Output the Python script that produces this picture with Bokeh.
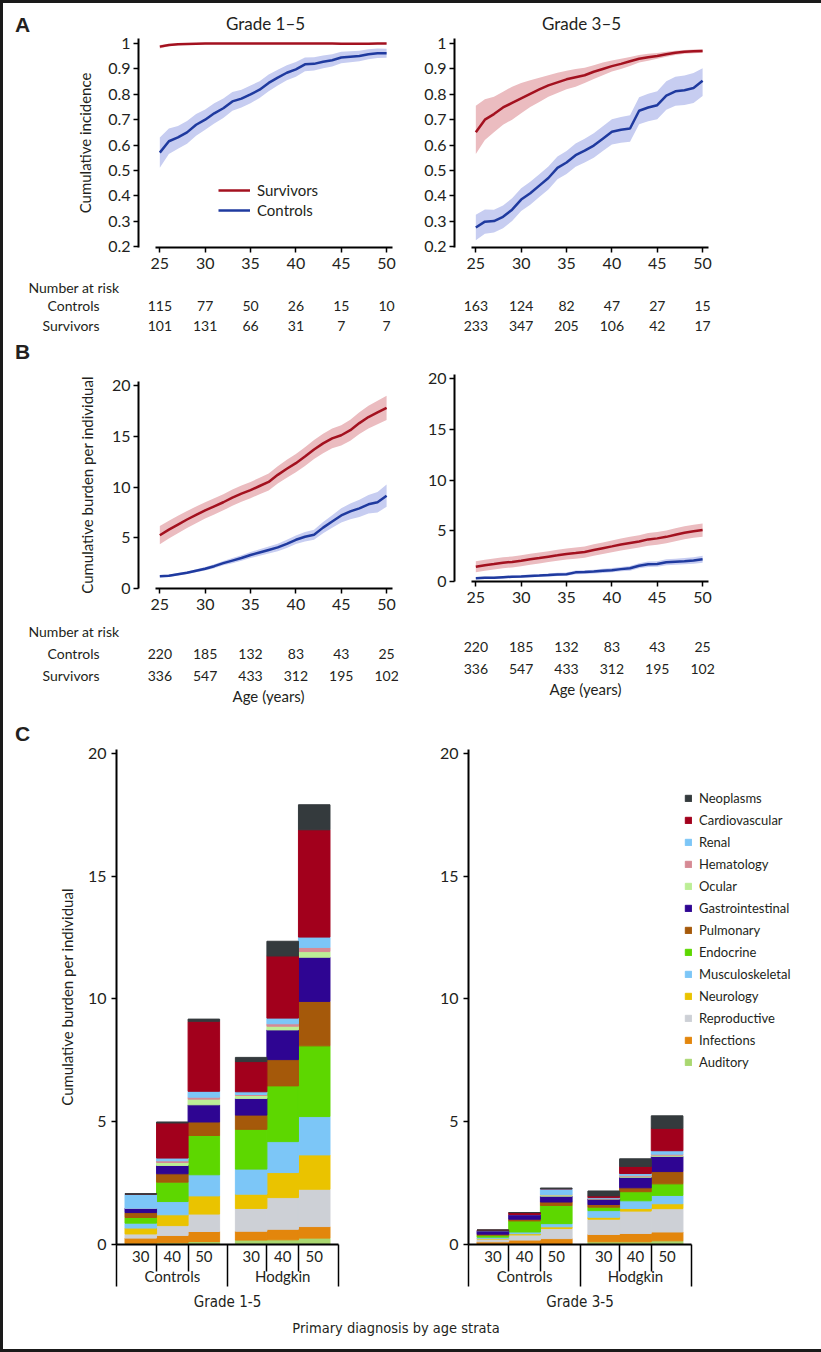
from bokeh.plotting import figure
from bokeh.models import (ColumnDataSource, Range1d, FactorRange, FixedTicker, LinearAxis,
                          Legend, LegendItem, Div, NumeralTickFormatter, CustomJSTickFormatter)
from bokeh.layouts import row, column
from bokeh.embed import file_html
from bokeh.resources import INLINE
from bokeh.core.properties import value

# ---------------- data ----------------
ages = [25, 26, 27, 28, 29, 30, 31, 32, 33, 34, 35, 36, 37, 38, 39, 40, 41, 42, 43, 44, 45, 46, 47, 48, 49, 50]
age_ticks = [25, 30, 35, 40, 45, 50]

# Panel A, grade 1-5 cumulative incidence
surv_inc_g15 = [0.988, 0.994, 0.997, 0.998, 0.999, 1.000, 1.000, 1.000, 1.000, 1.000, 1.000, 1.000, 1.000,
                1.000, 1.000, 1.000, 1.000, 1.000, 1.000, 1.000, 0.999, 0.999, 0.999, 0.999, 1.000, 1.000]
surv_inc_g15_lo = [0.981, 0.989, 0.993, 0.995, 0.996, 0.997, 0.998, 0.998, 0.998, 0.998, 0.998, 0.998, 0.998,
                   0.998, 0.998, 0.998, 0.998, 0.998, 0.998, 0.998, 0.997, 0.997, 0.997, 0.997, 0.998, 0.998]
surv_inc_g15_hi = [0.994, 0.998, 0.999, 1.000, 1.000, 1.000, 1.000, 1.000, 1.000, 1.000, 1.000, 1.000, 1.000,
                   1.000, 1.000, 1.000, 1.000, 1.000, 1.000, 1.000, 1.000, 1.000, 1.000, 1.000, 1.000, 1.000]
ctrl_inc_g15 = [0.570, 0.615, 0.630, 0.650, 0.680, 0.700, 0.725, 0.745, 0.772, 0.783, 0.800, 0.818, 0.845,
                0.866, 0.885, 0.898, 0.918, 0.920, 0.928, 0.934, 0.945, 0.948, 0.951, 0.958, 0.962, 0.962]
ctrl_inc_g15_lo = [0.510, 0.565, 0.585, 0.605, 0.637, 0.660, 0.685, 0.707, 0.735, 0.748, 0.765, 0.785, 0.812,
                   0.835, 0.855, 0.869, 0.891, 0.894, 0.903, 0.910, 0.922, 0.926, 0.930, 0.938, 0.943, 0.944]
ctrl_inc_g15_hi = [0.630, 0.665, 0.675, 0.695, 0.722, 0.740, 0.765, 0.783, 0.809, 0.818, 0.835, 0.851, 0.878,
                   0.897, 0.915, 0.927, 0.945, 0.946, 0.953, 0.958, 0.968, 0.970, 0.972, 0.978, 0.981, 0.980]

# Panel A, grade 3-5 cumulative incidence
surv_inc_g35 = [0.650, 0.700, 0.722, 0.748, 0.766, 0.784, 0.802, 0.819, 0.835, 0.847, 0.859, 0.867, 0.875,
                0.889, 0.900, 0.911, 0.920, 0.930, 0.940, 0.946, 0.951, 0.958, 0.964, 0.968, 0.970, 0.971]
surv_inc_g35_lo = [0.565, 0.620, 0.650, 0.680, 0.700, 0.725, 0.750, 0.770, 0.790, 0.805, 0.820, 0.830, 0.845,
                   0.860, 0.875, 0.890, 0.900, 0.912, 0.925, 0.932, 0.940, 0.948, 0.955, 0.960, 0.962, 0.964]
surv_inc_g35_hi = [0.755, 0.780, 0.790, 0.810, 0.830, 0.845, 0.855, 0.865, 0.875, 0.885, 0.893, 0.900, 0.905,
                   0.915, 0.925, 0.933, 0.940, 0.947, 0.955, 0.960, 0.963, 0.968, 0.972, 0.975, 0.977, 0.978]
ctrl_inc_g35 = [0.275, 0.298, 0.300, 0.317, 0.345, 0.385, 0.410, 0.440, 0.470, 0.510, 0.531, 0.560, 0.578,
                0.598, 0.625, 0.652, 0.660, 0.665, 0.735, 0.748, 0.757, 0.795, 0.812, 0.816, 0.825, 0.853]
ctrl_inc_g35_lo = [0.225, 0.250, 0.255, 0.272, 0.300, 0.340, 0.365, 0.395, 0.425, 0.465, 0.486, 0.514, 0.531,
                   0.550, 0.576, 0.602, 0.609, 0.613, 0.682, 0.694, 0.702, 0.739, 0.755, 0.758, 0.766, 0.793]
ctrl_inc_g35_hi = [0.325, 0.346, 0.345, 0.362, 0.390, 0.430, 0.455, 0.485, 0.515, 0.555, 0.576, 0.606, 0.625,
                   0.646, 0.674, 0.702, 0.711, 0.717, 0.788, 0.802, 0.812, 0.851, 0.869, 0.874, 0.884, 0.903]

# Panel B, grade 1-5 cumulative burden
surv_bur_g15 = [5.25, 5.80, 6.30, 6.80, 7.25, 7.70, 8.10, 8.50, 8.95, 9.35, 9.70, 10.10, 10.50,
                11.20, 11.80, 12.35, 13.00, 13.70, 14.30, 14.80, 15.10, 15.60, 16.30, 16.90, 17.35, 17.80]
surv_bur_g15_lo = [4.35, 4.92, 5.44, 5.96, 6.43, 6.90, 7.30, 7.70, 8.15, 8.55, 8.90, 9.28, 9.66,
                   10.34, 10.92, 11.45, 12.08, 12.76, 13.34, 13.82, 14.10, 14.56, 15.22, 15.78, 16.19, 16.60]
surv_bur_g15_hi = [6.15, 6.68, 7.16, 7.64, 8.07, 8.50, 8.90, 9.30, 9.75, 10.15, 10.50, 10.92, 11.34,
                   12.06, 12.68, 13.25, 13.92, 14.64, 15.26, 15.78, 16.10, 16.64, 17.38, 18.02, 18.51, 19.00]
ctrl_bur_g15 = [1.20, 1.25, 1.40, 1.55, 1.75, 1.95, 2.20, 2.50, 2.75, 3.00, 3.30, 3.55, 3.80,
                4.05, 4.40, 4.80, 5.10, 5.30, 6.00, 6.60, 7.20, 7.60, 7.90, 8.30, 8.50, 9.15]
ctrl_bur_g15_lo = [1.10, 1.14, 1.28, 1.42, 1.60, 1.77, 2.00, 2.28, 2.50, 2.73, 3.00, 3.22, 3.45,
                   3.68, 3.99, 4.38, 4.64, 4.80, 5.45, 5.98, 6.50, 6.82, 7.05, 7.38, 7.50, 8.05]
ctrl_bur_g15_hi = [1.30, 1.36, 1.52, 1.68, 1.90, 2.13, 2.40, 2.72, 3.00, 3.27, 3.60, 3.88, 4.15,
                   4.42, 4.81, 5.22, 5.56, 5.80, 6.55, 7.22, 7.90, 8.38, 8.75, 9.22, 9.50, 10.25]

# Panel B, grade 3-5 cumulative burden
surv_bur_g35 = [1.45, 1.60, 1.72, 1.85, 1.93, 2.05, 2.20, 2.32, 2.45, 2.58, 2.72, 2.80, 2.90,
                3.10, 3.28, 3.46, 3.65, 3.80, 3.95, 4.15, 4.25, 4.40, 4.60, 4.80, 4.95, 5.07]
surv_bur_g35_lo = [0.90, 1.06, 1.18, 1.31, 1.39, 1.51, 1.66, 1.78, 1.91, 2.04, 2.18, 2.25, 2.35,
                   2.54, 2.71, 2.88, 3.06, 3.20, 3.34, 3.53, 3.62, 3.77, 3.96, 4.16, 4.31, 4.42]
surv_bur_g35_hi = [2.00, 2.14, 2.26, 2.39, 2.47, 2.59, 2.74, 2.86, 2.99, 3.12, 3.26, 3.35, 3.45,
                   3.66, 3.85, 4.04, 4.24, 4.40, 4.56, 4.77, 4.88, 5.03, 5.24, 5.44, 5.59, 5.72]
ctrl_bur_g35 = [0.33, 0.38, 0.36, 0.42, 0.47, 0.50, 0.55, 0.58, 0.63, 0.70, 0.72, 0.90, 0.93,
                0.98, 1.05, 1.12, 1.22, 1.30, 1.55, 1.70, 1.72, 1.90, 1.95, 2.00, 2.08, 2.20]
ctrl_bur_g35_lo = [0.23, 0.27, 0.25, 0.30, 0.35, 0.37, 0.41, 0.44, 0.48, 0.54, 0.56, 0.72, 0.75,
                   0.79, 0.85, 0.91, 1.00, 1.07, 1.30, 1.44, 1.45, 1.61, 1.65, 1.69, 1.76, 1.86]
ctrl_bur_g35_hi = [0.43, 0.49, 0.47, 0.54, 0.59, 0.63, 0.69, 0.72, 0.78, 0.86, 0.88, 1.08, 1.11,
                   1.17, 1.25, 1.33, 1.44, 1.53, 1.80, 1.96, 1.99, 2.19, 2.25, 2.31, 2.40, 2.54]

# Numbers at risk
risk_rows = ["Survivors", "Controls"]
risk_a_g15_ctrl = [115, 77, 50, 26, 15, 10]
risk_a_g15_surv = [101, 131, 66, 31, 7, 7]
risk_a_g35_ctrl = [163, 124, 82, 47, 27, 15]
risk_a_g35_surv = [233, 347, 205, 106, 42, 17]
risk_b_ctrl = [220, 185, 132, 83, 43, 25]
risk_b_surv = [336, 547, 433, 312, 195, 102]

# Panel C, stacked burden per organ system (Controls 30/40/50, Hodgkin 30/40/50)
groups = ["Controls", "Hodgkin"]
strata = ["30", "40", "50"]
organs = ["Auditory", "Infections", "Reproductive", "Neurology", "Musculoskeletal", "Endocrine",
          "Pulmonary", "Gastrointestinal", "Ocular", "Hematology", "Renal", "Cardiovascular", "Neoplasms"]
organ_colors = ["#a9d770", "#e3860c", "#cdd0d6", "#eac300", "#7cc6f7", "#5dd700",
                "#a5590a", "#2e0592", "#bcee96", "#d68a94", "#7cc6f7", "#a2001c", "#343a3d"]

auditory_g15 = [0.05, 0.07, 0.12, 0.18, 0.19, 0.26]
infections_g15 = [0.21, 0.30, 0.41, 0.36, 0.43, 0.47]
reproductive_g15 = [0.17, 0.40, 0.71, 0.93, 1.29, 1.52]
neurology_g15 = [0.24, 0.44, 0.74, 0.58, 1.02, 1.40]
musculoskeletal_g15 = [0.20, 0.54, 0.86, 1.02, 1.26, 1.56]
endocrine_g15 = [0.23, 0.79, 1.60, 1.62, 2.27, 2.88]
pulmonary_g15 = [0.20, 0.34, 0.55, 0.58, 1.07, 1.81]
gastrointestinal_g15 = [0.18, 0.34, 0.70, 0.68, 1.21, 1.80]
ocular_g15 = [0.00, 0.12, 0.23, 0.12, 0.15, 0.23]
hematology_g15 = [0.00, 0.07, 0.08, 0.04, 0.10, 0.17]
renal_g15 = [0.57, 0.11, 0.24, 0.11, 0.23, 0.42]
cardiovascular_g15 = [0.00, 1.43, 2.85, 1.23, 2.53, 4.37]
neoplasms_g15 = [0.02, 0.04, 0.09, 0.17, 0.60, 1.02]

auditory_g35 = [0.02, 0.04, 0.04, 0.11, 0.11, 0.15]
infections_g35 = [0.09, 0.14, 0.20, 0.30, 0.34, 0.36]
reproductive_g35 = [0.11, 0.21, 0.41, 0.62, 0.91, 0.95]
neurology_g35 = [0.03, 0.05, 0.07, 0.08, 0.11, 0.20]
musculoskeletal_g35 = [0.05, 0.07, 0.13, 0.27, 0.31, 0.34]
endocrine_g35 = [0.08, 0.45, 0.74, 0.14, 0.37, 0.47]
pulmonary_g35 = [0.04, 0.07, 0.14, 0.11, 0.16, 0.50]
gastrointestinal_g35 = [0.14, 0.19, 0.24, 0.23, 0.43, 0.62]
ocular_g35 = [0.01, 0.00, 0.05, 0.00, 0.04, 0.05]
hematology_g35 = [0.00, 0.00, 0.02, 0.02, 0.04, 0.04]
renal_g35 = [0.00, 0.00, 0.23, 0.03, 0.07, 0.14]
cardiovascular_g35 = [0.02, 0.08, 0.00, 0.07, 0.29, 0.91]
neoplasms_g35 = [0.00, 0.00, 0.03, 0.20, 0.31, 0.51]

burden_g15 = [auditory_g15, infections_g15, reproductive_g15, neurology_g15, musculoskeletal_g15,
              endocrine_g15, pulmonary_g15, gastrointestinal_g15, ocular_g15, hematology_g15,
              renal_g15, cardiovascular_g15, neoplasms_g15]
burden_g35 = [auditory_g35, infections_g35, reproductive_g35, neurology_g35, musculoskeletal_g35,
              endocrine_g35, pulmonary_g35, gastrointestinal_g35, ocular_g35, hematology_g35,
              renal_g35, cardiovascular_g35, neoplasms_g35]

# ---------------- style ----------------
FONT = "Lato"
COND = "DejaVu Sans Condensed, Roboto"
INK = "#231f20"
RED = "#a3111f"
RED_BAND = "#ebbcc0"
BLUE = "#1f3a9f"
BLUE_BAND = "#c7cdf1"
X0, X1 = 22.65, 50.65
FW = 254
PPY = FW / (X1 - X0)   # pixels per year, shared by curves and risk tables


def base_fig(**kw):
    p = figure(output_backend="svg", toolbar_location=None, **kw)
    p.outline_line_color = None
    p.grid.visible = False
    p.background_fill_color = "white"
    p.border_fill_color = "white"
    if p.title is not None:
        p.title.text_font = FONT
        p.title.text_font_style = "normal"
        p.title.text_color = INK
    return p


def style_axis(ax):
    ax.axis_line_width = 2
    ax.axis_line_color = "black"
    ax.major_tick_line_width = 1.5
    ax.major_tick_line_color = "black"
    ax.major_tick_out = 5
    ax.major_tick_in = 0
    ax.minor_tick_line_color = None
    ax.major_label_text_font = FONT
    ax.major_label_text_font_size = "16px"
    ax.major_label_text_color = INK
    ax.axis_label_text_font = FONT
    ax.axis_label_text_font_style = "normal"
    ax.axis_label_text_font_size = "15px"
    ax.axis_label_text_color = INK


def curve_fig(title, yr, yticks, ylabel, fh, top, bottom, left, right, surv, ctrl, fmt=None, lab_standoff=13):
    p = base_fig(title=title, frame_width=FW, frame_height=fh,
                 x_range=Range1d(X0, X1), y_range=Range1d(*yr),
                 min_border_top=top, min_border_bottom=bottom,
                 min_border_left=left, min_border_right=right)
    p.varea(x=ages, y1=surv[1], y2=surv[2], fill_color=RED_BAND)
    p.varea(x=ages, y1=ctrl[1], y2=ctrl[2], fill_color=BLUE_BAND)
    rs = p.line(x=ages, y=surv[0], line_color=RED, line_width=2.5)
    rc = p.line(x=ages, y=ctrl[0], line_color=BLUE, line_width=2.5)
    for ax in p.axis:
        style_axis(ax)
    p.xaxis.ticker = FixedTicker(ticks=age_ticks)
    p.xaxis.bounds = (24.55, X1)
    p.xaxis.major_label_standoff = 5
    p.yaxis.ticker = FixedTicker(ticks=yticks)
    p.yaxis.major_label_standoff = 3
    if fmt:
        p.yaxis.formatter = NumeralTickFormatter(format=fmt)
    if ylabel:
        p.yaxis.axis_label = ylabel
        p.yaxis.axis_label_standoff = lab_standoff
    p.title.align = "center"
    p.title.text_font_size = "17px"
    return p, rs, rc


def risk_fig(ctrl_n, surv_n, labels, row_h, top, bottom, left, right, fw, xlabel, t_standoff=0):
    p = base_fig(title="Number at risk" if labels else "", frame_width=fw, frame_height=2 * row_h,
                 x_range=Range1d(X0, X0 + fw / PPY), y_range=FactorRange(factors=risk_rows),
                 min_border_top=top, min_border_bottom=bottom,
                 min_border_left=left, min_border_right=right,
                 x_axis_location="below" if xlabel else None,
                 y_axis_location="left" if labels else None)
    src = ColumnDataSource(dict(x=age_ticks + age_ticks,
                                y=["Controls"] * len(ctrl_n) + ["Survivors"] * len(surv_n),
                                t=[str(v) for v in ctrl_n + surv_n]))
    p.text(x="x", y="y", text="t", source=src, text_align="center", text_baseline="middle",
           text_font=value(FONT), text_font_size="14px", text_color=INK)
    for ax in p.axis:
        style_axis(ax)
        ax.axis_line_color = None
        ax.major_tick_line_color = None
        ax.major_tick_out = 0
    if labels:
        p.yaxis.major_label_standoff = 39
        p.yaxis.major_label_text_font_size = "14px"
        p.title.align = "left"
        p.title.offset = -110
        p.title.text_font_size = "14px"
        p.title.standoff = t_standoff
    if xlabel:
        p.xaxis.ticker = FixedTicker(ticks=[])
        p.xaxis.axis_label = "Age (years)"
        p.xaxis.axis_label_standoff = 0
    return p


GP = 0.5
PAD = 0.27
n_s = len(strata)
span = len(groups) * n_s + (len(groups) - 1) * GP
bar_x = [gi * (n_s + GP) + si + 0.5 for gi in range(len(groups)) for si in range(n_s)]
bar_lab = [s for g in groups for s in strata]
grp_x = [gi * (n_s + GP) + n_s / 2 for gi in range(len(groups))]


def bar_fig(burden, grade, ylabel, left, right, fwidth, legend):
    p = base_fig(frame_width=fwidth, frame_height=495, x_range=Range1d(-PAD, span + PAD),
                 y_range=Range1d(0, 20.16), x_axis_location=None,
                 min_border_top=42, min_border_bottom=70, min_border_left=left, min_border_right=right)
    data = {"x": bar_x}
    for name, vals in zip(organs, burden):
        data[name] = vals
    src = ColumnDataSource(data)
    rends = p.vbar_stack(organs, x="x", width=1.0, color=organ_colors, source=src)
    yax = p.yaxis[0]
    style_axis(yax)
    yax.ticker = FixedTicker(ticks=[0, 5, 10, 15, 20])
    yax.major_label_standoff = 5
    if ylabel:
        yax.axis_label = ylabel
        yax.axis_label_standoff = 9
    # separators between strata and between groups (zero-size axes, ticks drawn downwards)
    short, long_ = [], [-PAD + 0.01]
    for gi in range(len(groups)):
        base = gi * (n_s + GP)
        short += [base + k for k in range(1, n_s)]
        if gi < len(groups) - 1:
            long_.append(base + n_s + GP / 2)
    long_.append(span + PAD - 0.01)
    for ticks, length in ((short, 27), (long_, 42)):
        ax = LinearAxis(ticker=FixedTicker(ticks=ticks), formatter=CustomJSTickFormatter(code="return ''"),
                        major_tick_out=0, major_tick_in=-length, major_label_standoff=0,
                        major_tick_line_color="black", major_tick_line_width=1.5,
                        minor_tick_line_color=None, axis_line_color=None,
                        major_label_text_font_size="1px")
        p.add_layout(ax, "below")
    sax = LinearAxis(ticker=FixedTicker(ticks=bar_x),
                     major_label_overrides={x: s for x, s in zip(bar_x, bar_lab)})
    style_axis(sax)
    sax.major_tick_line_color = None
    sax.major_tick_out = 0
    sax.major_label_standoff = 6
    sax.major_label_text_font_size = "15px"
    p.add_layout(sax, "below")
    gax = LinearAxis(ticker=FixedTicker(ticks=grp_x),
                     major_label_overrides={x: g for x, g in zip(grp_x, groups)})
    style_axis(gax)
    gax.axis_line_color = None
    gax.major_tick_line_color = None
    gax.major_tick_out = 0
    gax.major_label_standoff = 2
    gax.major_label_text_font_size = "15px"
    gax.axis_label = grade
    gax.axis_label_text_font = COND
    gax.axis_label_text_font_size = "15px"
    gax.axis_label_standoff = 5
    p.add_layout(gax, "below")
    if legend:
        items = [LegendItem(label=name, renderers=[r]) for name, r in zip(organs[::-1], rends[::-1])]
        leg = Legend(items=items, location=(-7, 172), glyph_width=8, glyph_height=8, label_standoff=7,
                     label_height=20, spacing=2, padding=0, margin=0, border_line_color=None,
                     background_fill_alpha=0, label_text_font=FONT, label_text_font_size="13px",
                     label_text_color=INK)
        p.add_layout(leg, "right")
    return p


def letter_div(letter, h, dy):
    return Div(text=f'<div style="position:relative;left:12px;top:{dy}px;font-family:Liberation Sans,Arial,sans-serif;'
                    f'font-weight:bold;font-size:21px;line-height:21px;color:{INK}">{letter}</div>',
               width=45, height=h, margin=0)


# ---------------- panels ----------------
Y_INC = [0.2, 0.3, 0.4, 0.5, 0.6, 0.7, 0.8, 0.9, 1.0]
a_l, a_l_s, a_l_c = curve_fig("Grade 1–5", (0.196, 1.02), Y_INC, "Cumulative incidence", 209, 35, 29, 90, 8,
                              (surv_inc_g15, surv_inc_g15_lo, surv_inc_g15_hi),
                              (ctrl_inc_g15, ctrl_inc_g15_lo, ctrl_inc_g15_hi), fmt="0.[0]", lab_standoff=11)
leg_a = Legend(items=[LegendItem(label="Survivors", renderers=[a_l_s]),
                      LegendItem(label="Controls", renderers=[a_l_c])],
               location=(80, 27), glyph_width=32, glyph_height=20, label_standoff=7, label_height=20,
               spacing=0, padding=0, margin=0, border_line_color=None, background_fill_alpha=0,
               label_text_font=FONT, label_text_font_size="15px", label_text_color=INK)
a_l.add_layout(leg_a)
a_r, _, _ = curve_fig("Grade 3–5", (0.196, 1.02), Y_INC, None, 209, 35, 29, 54, 109,
                      (surv_inc_g35, surv_inc_g35_lo, surv_inc_g35_hi),
                      (ctrl_inc_g35, ctrl_inc_g35_lo, ctrl_inc_g35_hi), fmt="0.[0]")

ta_l = risk_fig(risk_a_g15_ctrl, risk_a_g15_surv, True, 20, 19, 0, 135, 2, 260, False, 0)
ta_r = risk_fig(risk_a_g35_ctrl, risk_a_g35_surv, False, 20, 19, 0, 54, 101, 262, False)

b_l, _, _ = curve_fig("", (0, 20.4), [0, 5, 10, 15, 20], "Cumulative burden per individual",
                      207, 46, 29, 90, 8,
                      (surv_bur_g15, surv_bur_g15_lo, surv_bur_g15_hi),
                      (ctrl_bur_g15, ctrl_bur_g15_lo, ctrl_bur_g15_hi), lab_standoff=13)
b_r, _, _ = curve_fig("", (0, 20.4), [0, 5, 10, 15, 20], None, 207, 39, 36, 54, 109,
                      (surv_bur_g35, surv_bur_g35_lo, surv_bur_g35_hi),
                      (ctrl_bur_g35, ctrl_bur_g35_lo, ctrl_bur_g35_hi))

tb_l = risk_fig(risk_b_ctrl, risk_b_surv, True, 22, 25, 20, 135, 2, 260, True, 6)
tb_r = risk_fig(risk_b_ctrl, risk_b_surv, False, 22, 18, 27, 54, 101, 262, True)

c_l = bar_fig(burden_g15, "Grade 1-5", "Cumulative burden per individual", 68, 62, 222, False)
c_r = bar_fig(burden_g35, "Grade 3-5", None, 68, 126, 223, True)

bottom = Div(text=f'<div style="position:relative;left:-14px;top:6px;width:814px;text-align:center;'
                  f'font-family:DejaVu Sans Condensed,Roboto,sans-serif;'
                  f'font-size:14.5px;line-height:17px;color:{INK}">Primary diagnosis by age strata</div>',
             width=814, height=35, margin=0)

layout = column(
    row(letter_div("A", 273, 11), a_l, a_r),
    row(ta_l, ta_r),
    row(letter_div("B", 282, 6), b_l, column(b_r)),
    row(tb_l, column(tb_r)),
    row(letter_div("C", 607, 16), c_l, c_r),
    bottom,
    styles={"border": "3px solid #1a1a1a"},
)

open("out.html", "w").write(file_html(layout, INLINE))
